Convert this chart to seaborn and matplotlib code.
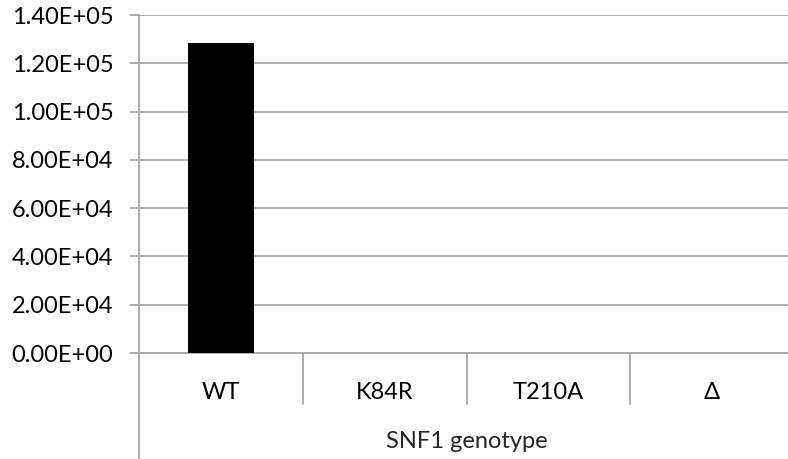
import matplotlib
matplotlib.use('Agg')
import matplotlib.pyplot as plt
import matplotlib.transforms as mtransforms
from matplotlib.ticker import FuncFormatter
import seaborn as sns
import pandas as pd

# Data
genotypes = ['WT', 'K84R', 'T210A', 'Δ']
activity = [128300, 0, 0, 0]
y_ticks = [0, 20000, 40000, 60000, 80000, 100000, 120000, 140000]

df = pd.DataFrame({'Genotype': genotypes, 'Activity': activity})

sns.set_style('white')
plt.rcParams['font.family'] = ['Lato', 'DejaVu Sans']

fig = plt.figure(figsize=(7.88, 4.59), dpi=100)
# axes area in pixels: left 139, right 794, top 15, bottom 353
ax = fig.add_axes([139 / 788, (459 - 353) / 459, (794 - 139) / 788, (353 - 15) / 459])

sns.barplot(x='Genotype', y='Activity', data=df, color='black', width=0.4,
            saturation=1, linewidth=0, ax=ax, zorder=3)

ax.set_ylim(0, 140000)
ax.set_xlim(-0.5, 3.5)
ax.set_yticks(y_ticks)
ax.yaxis.set_major_formatter(FuncFormatter(lambda v, p: f'{v:.2E}'))
ax.yaxis.grid(True, color='#A6A6A6', linewidth=1.3, zorder=0)
ax.set_axisbelow(True)

for side in ['top', 'right', 'bottom']:
    ax.spines[side].set_visible(False)
ax.spines['left'].set_color('#A6A6A6')
ax.spines['left'].set_linewidth(1.3)

ax.tick_params(axis='y', which='major', left=True, length=6.5, width=1.3,
               color='#A6A6A6', labelsize=17, labelcolor='black', pad=12)
ax.tick_params(axis='x', length=0, labelsize=17, labelcolor='black', pad=21)

# zero line
ax.axhline(0, color='#A6A6A6', linewidth=1.3, zorder=1, clip_on=False)

# category separators and extended y axis (Excel multi-level axis look)
trans = mtransforms.blended_transform_factory(ax.transData, ax.transAxes)
for xs in [0.5, 1.5, 2.5]:
    ax.plot([xs, xs], [0, -51 / 338], color='#A6A6A6', linewidth=1.3,
            transform=trans, clip_on=False)
ax.plot([-0.5, -0.5], [0, -110 / 338], color='#A6A6A6', linewidth=1.3,
        transform=trans, clip_on=False)

ax.set_xlabel('SNF1 genotype', fontsize=17, labelpad=20)
ax.set_ylabel('')

plt.savefig('out.png', dpi=100)
